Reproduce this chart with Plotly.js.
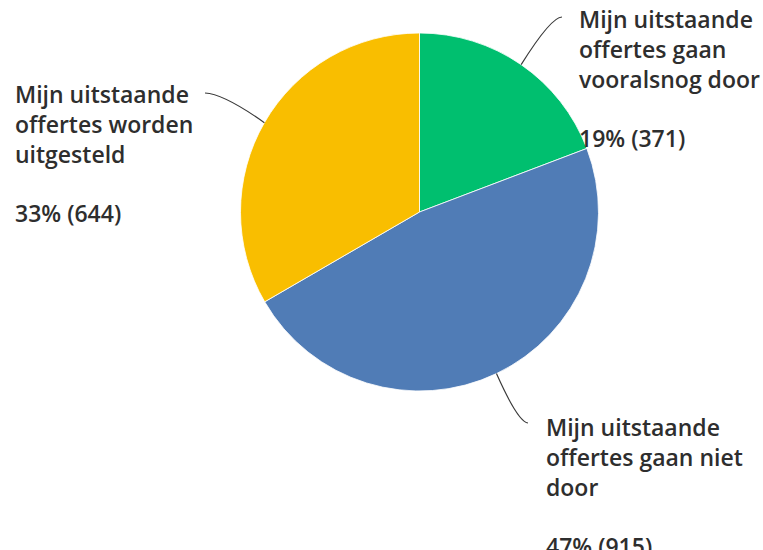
<!DOCTYPE html>
<html>
<head>
<meta charset="utf-8">
<script src="https://cdn.plot.ly/plotly-3.0.1.min.js"></script>
<style>html,body{margin:0;padding:0;background:#fff}#chart{width:763px;height:550px}</style>
</head>
<body>
<div id="chart"></div>
<script>
const labels = ["Mijn uitstaande offertes gaan vooralsnog door", "Mijn uitstaande offertes gaan niet door", "Mijn uitstaande offertes worden uitgesteld"];
const labelLines = [
  ["Mijn uitstaande", "offertes gaan", "vooralsnog door"],
  ["Mijn uitstaande", "offertes gaan niet", "door"],
  ["Mijn uitstaande", "offertes worden", "uitgesteld"]
];
const values = [371, 915, 644];
const colors = ["#00BF6F", "#507CB6", "#F9BE00"];

// layout constants (pixels)
const W = 763, H = 550;
const cx = 419.5, cy = 212, R = 179;
const lineGap = 30, pctGap = 59;
// label placement: left x, first-line centre y (px), leader end (px), control point (px)
const labelPos = [
  {x: 577, y: 19, end: [562, 17], ctrl: [551, 17]},
  {x: 544, y: 427, end: [528, 423], ctrl: [518, 422]},
  {x: 13, y: 94, end: [205, 93], ctrl: [224, 94]}
];
const labelFont = {family: '"Open Sans", sans-serif', size: 23, color: '#2e2e2e', weight: 600};

const total = values.reduce((a, b) => a + b, 0);
const px = x => x / W;
const py = y => 1 - y / H;

const annotations = [];
const shapes = [];
let cum = 0;
values.forEach((v, i) => {
  const mid = (cum + v / 2) / total * 2 * Math.PI;
  cum += v;
  const sx = cx + R * Math.sin(mid), sy = cy - R * Math.cos(mid);
  const p = labelPos[i];
  const pct = Math.round(v / total * 100);
  const lines = labelLines[i].concat([pct + '% (' + v + ')']);
  lines.forEach((t, k) => {
    const yy = p.y + k * lineGap + (k === lines.length - 1 ? pctGap - lineGap : 0);
    annotations.push({
      xref: 'paper', yref: 'paper', x: px(p.x), y: py(yy),
      xanchor: 'left', yanchor: 'middle', align: 'left', showarrow: false,
      text: t, font: labelFont
    });
  });
  shapes.push({
    type: 'path', xref: 'paper', yref: 'paper',
    path: 'M ' + px(sx) + ' ' + py(sy) + ' Q ' + px(p.ctrl[0]) + ' ' + py(p.ctrl[1]) + ' ' + px(p.end[0]) + ' ' + py(p.end[1]),
    line: {color: '#3a3a3a', width: 1.2}
  });
});

const data = [{
  type: 'pie',
  labels: labels,
  values: values,
  sort: false,
  direction: 'clockwise',
  rotation: 0,
  textinfo: 'none',
  hoverinfo: 'label+percent+value',
  marker: {colors: colors, line: {color: '#ffffff', width: 0.8}},
  domain: {x: [(cx - R) / W, (cx + R) / W], y: [1 - (cy + R) / H, 1 - (cy - R) / H]},
  showlegend: false
}];

const layout = {
  width: W, height: H,
  margin: {l: 0, r: 0, t: 0, b: 0},
  paper_bgcolor: '#fff',
  showlegend: false,
  annotations: annotations,
  shapes: shapes
};

Plotly.newPlot('chart', data, layout, {displayModeBar: false, staticPlot: true});
</script>
</body>
</html>
